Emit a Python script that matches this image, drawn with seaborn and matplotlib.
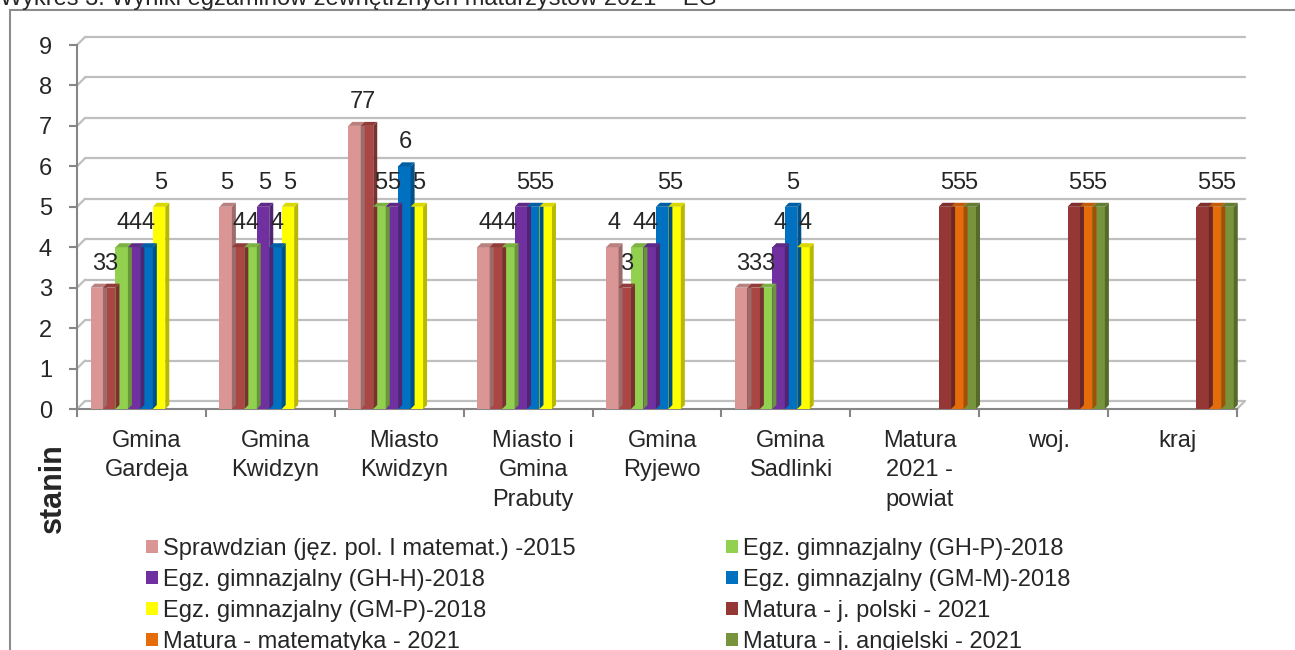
import numpy as np
import pandas as pd
import matplotlib
matplotlib.use("Agg")
import matplotlib.pyplot as plt
from matplotlib.patches import Patch, Polygon, Rectangle
from matplotlib.transforms import ScaledTranslation
import seaborn as sns

# --- data ---
title = "Wykres 3. Wyniki egzaminów zewnętrznych maturzystów 2021 – EG"
categories = ["Gmina\nGardeja", "Gmina\nKwidzyn", "Miasto\nKwidzyn",
              "Miasto i\nGmina\nPrabuty", "Gmina\nRyjewo", "Gmina\nSadlinki",
              "Matura\n2021 -\npowiat", "woj.", "kraj"]
gminy = categories[:6]
matura = categories[6:]

sprawdzian_2015 = [3, 5, 7, 4, 4, 3]
seria_bez_opisu = [3, 4, 7, 4, 3, 3]   # 2nd bar in every group, legend entry not visible
gh_p_2018 = [4, 4, 5, 4, 4, 3]
gh_h_2018 = [4, 5, 5, 5, 4, 4]
gm_m_2018 = [4, 4, 6, 5, 5, 5]
gm_p_2018 = [5, 5, 5, 5, 5, 4]
matura_polski = [5, 5, 5]
matura_matematyka = [5, 5, 5]
matura_angielski = [5, 5, 5]

series = [
    ("Sprawdzian (jęz. pol. I matemat.) -2015", gminy, sprawdzian_2015, "#D99694"),
    ("(seria bez opisu)", gminy, seria_bez_opisu, "#AA4643"),
    ("Egz. gimnazjalny (GH-P)-2018", gminy, gh_p_2018, "#92D050"),
    ("Egz. gimnazjalny (GH-H)-2018", gminy, gh_h_2018, "#7030A0"),
    ("Egz. gimnazjalny (GM-M)-2018", gminy, gm_m_2018, "#0070C0"),
    ("Egz. gimnazjalny (GM-P)-2018", gminy, gm_p_2018, "#FFFF00"),
    ("Matura - j. polski - 2021", matura, matura_polski, "#953735"),
    ("Matura - matematyka - 2021", matura, matura_matematyka, "#E46C0A"),
    ("Matura - j. angielski - 2021", matura, matura_angielski, "#77933C"),
]

rows = []
for name, cats, vals, _ in series:
    for c, v in zip(cats, vals):
        rows.append({"kategoria": c, "seria": name, "stanin": v})
df = pd.DataFrame(rows)
hue_order = [s[0] for s in series]
palette = {s[0]: s[3] for s in series}

# --- figure ---
sns.set_style("white")
plt.rcParams["font.family"] = ["Liberation Sans", "DejaVu Sans"]
FS = 17
GRID = "#BFBFBF"
AXC = "#868686"

W, H = 1295, 650
fig = plt.figure(figsize=(W / 100, H / 100), dpi=100)
ax = fig.add_axes([77 / W, 1 - 409 / H, (1237 - 77) / W, (409 - 45) / H])

sns.barplot(data=df, x="kategoria", y="stanin", hue="seria", order=categories,
            hue_order=hue_order, palette=palette, saturation=1, width=0.87,
            errorbar=None, legend=False, ax=ax, zorder=3, linewidth=0)

# slight right shift of the categories, like the 3D depth in the original
x_lo, x_hi = -0.54, len(categories) - 0.54
ax.set_xlim(x_lo, x_hi)
ax.set_ylim(0, 9)
ax.set_yticks(range(10))
ax.set_xlabel("")
ax.set_ylabel("")
for s in ["top", "right"]:
    ax.spines[s].set_visible(False)
for s in ["left", "bottom"]:
    ax.spines[s].set_color(AXC)
    ax.spines[s].set_linewidth(1.5)
ax.tick_params(axis="y", length=6, width=1.5, color=AXC, labelsize=FS, pad=12, direction="out", left=True)
ax.tick_params(axis="x", which="major", length=0, labelsize=FS, pad=15)
for t in ax.get_xticklabels():
    t.set_linespacing(1.45)
ax.set_xticks(x_lo + np.arange(len(categories) + 1), minor=True)
ax.tick_params(axis="x", which="minor", length=6, width=1.5, color=AXC, direction="out", bottom=True)

# 3D-ish back wall gridlines
off = ScaledTranslation(8 / 100, 8 / 100, fig.dpi_scale_trans)
for yv in range(10):
    ax.plot([x_lo, x_hi], [yv, yv], color=GRID, lw=1.6, transform=ax.transData + off,
            clip_on=False, zorder=1)
    # diagonal from front axis to back wall
    p0 = ax.transData.transform((x_lo, yv))
    p1 = ax.transData.inverted().transform(p0 + np.array([8, 8]))
    ax.plot([x_lo, p1[0]], [yv, p1[1]], color=GRID, lw=1.6, clip_on=False, zorder=1)
p0 = ax.transData.transform((x_hi, 0))
p1 = ax.transData.inverted().transform(p0 + np.array([8, 8]))
ax.plot([x_hi, p1[0]], [0, p1[1]], color=GRID, lw=1.6, clip_on=False, zorder=1)

# depth faces + value labels
inv = ax.transData.inverted()
d = np.array([4, 4])
for p in ax.patches:
    h = p.get_height()
    if not np.isfinite(h) or h <= 0:
        continue
    x0, w = p.get_x(), p.get_width()
    fc = np.array(p.get_facecolor()[:3])
    a = ax.transData.transform((x0 + w, 0))
    b = ax.transData.transform((x0 + w, h))
    c = ax.transData.transform((x0, h))
    side = inv.transform([a, a + d, b + d, b])
    top = inv.transform([c, c + d, b + d, b])
    ax.add_patch(Polygon(side, closed=True, fc=fc * 0.72, ec="none", zorder=3, clip_on=False))
    ax.add_patch(Polygon(top, closed=True, fc=fc * 0.85, ec="none", zorder=3, clip_on=False))
    ax.annotate(f"{h:.0f}", xy=(x0 + w / 2, h), xytext=(1, 13), textcoords="offset points",
                ha="center", va="baseline", fontsize=FS, zorder=5)

# texts
fig.text(53 / W, 1 - 488 / H, "stanin", rotation=90, fontsize=22, fontweight="bold",
         ha="center", va="center")
fig.text(0, 1 - 5 / H, title, fontsize=FS, ha="left", va="baseline")

# chart frame (runs past the right and bottom edges)
fig.patches.append(Rectangle((10 / W, -0.1), 1.1, 1 - 10 / H + 0.1, transform=fig.transFigure,
                             fill=False, ec="#8C8C8C", lw=1.5))

# legend, filled row by row like the original
legend_items = [s for s in series if s[0] != "(seria bez opisu)"]
order = [0, 2, 4, 6, 1, 3, 5, 7]
handles = [Patch(fc=legend_items[i][3], ec="none") for i in order]
labels = [legend_items[i][0] for i in order]
fig.legend(handles, labels, ncol=2, loc="upper left", bbox_to_anchor=(146 / W, 1 - 538 / H),
           frameon=False, fontsize=FS, handlelength=0.5, handleheight=0.5,
           handletextpad=0.2, columnspacing=6.4, labelspacing=0.38,
           borderpad=0, borderaxespad=0)

fig.savefig("out.png", dpi=100)
